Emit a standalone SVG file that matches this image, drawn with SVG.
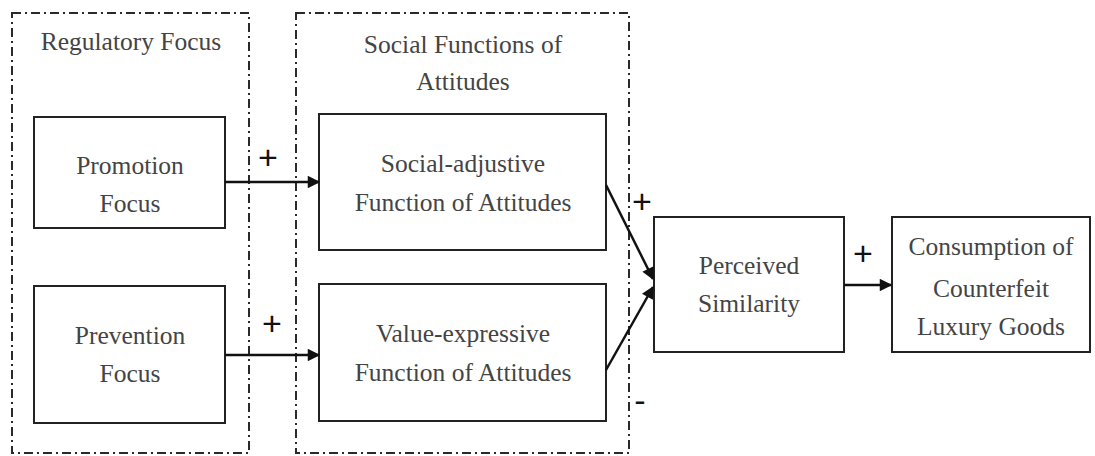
<svg xmlns="http://www.w3.org/2000/svg" width="1095" height="456" viewBox="0 0 1095 456">
<style>
.frame{fill:none;stroke:#2a2a2a;stroke-width:2;stroke-dasharray:9 4 2 4}
.box{fill:#fff;stroke:#222;stroke-width:2}
.t{font-family:'Liberation Serif','DejaVu Serif',serif;font-size:25.5px;fill:#444;text-anchor:middle}
.sign{font-family:'Liberation Sans','DejaVu Sans',sans-serif;font-size:34px;fill:#111;text-anchor:middle}
.conn{stroke:#111;stroke-width:2.5;fill:none;marker-end:url(#ah)}
</style>
<defs>
<marker id="ah" viewBox="0 0 10 10" refX="9" refY="5" markerWidth="5.5" markerHeight="5" orient="auto" markerUnits="strokeWidth">
<path d="M0,0 L10,5 L0,10 z" fill="#111"/>
</marker>
</defs>
<rect width="1095" height="456" fill="#fff"/>
<g id="frame-regulatory">
<rect class="frame" x="12" y="13" width="237" height="440"/>
<text class="t" x="131" y="50">Regulatory Focus</text>
</g>
<g id="frame-social">
<rect class="frame" x="296" y="13" width="333" height="440"/>
<text class="t" x="463" y="53">Social Functions of</text>
<text class="t" x="463" y="90">Attitudes</text>
</g>
<g id="promotion">
<rect class="box" x="34" y="117" width="191" height="111"/>
<text class="t" x="130" y="174">Promotion</text>
<text class="t" x="130" y="212">Focus</text>
</g>
<g id="prevention">
<rect class="box" x="34" y="286" width="191" height="137"/>
<text class="t" x="130" y="344">Prevention</text>
<text class="t" x="130" y="382">Focus</text>
</g>
<g id="social-adjustive">
<rect class="box" x="319" y="114" width="287" height="136"/>
<text class="t" x="463" y="172">Social-adjustive</text>
<text class="t" x="463" y="211">Function of Attitudes</text>
</g>
<g id="value-expressive">
<rect class="box" x="319" y="284" width="287" height="137"/>
<text class="t" x="463" y="342">Value-expressive</text>
<text class="t" x="463" y="381">Function of Attitudes</text>
</g>
<g id="perceived">
<rect class="box" x="654" y="217" width="190" height="135"/>
<text class="t" x="749" y="274">Perceived</text>
<text class="t" x="749" y="312">Similarity</text>
</g>
<g id="consumption">
<rect class="box" x="892" y="217" width="198" height="135"/>
<text class="t" x="991" y="255">Consumption of</text>
<text class="t" x="991" y="297">Counterfeit</text>
<text class="t" x="991" y="335">Luxury Goods</text>
</g>
<g id="connectors">
<line class="conn" x1="225" y1="182" x2="319" y2="182"/>
<line class="conn" x1="225" y1="355" x2="319" y2="355"/>
<line class="conn" x1="606" y1="185" x2="653" y2="279"/>
<line class="conn" x1="606" y1="370" x2="653" y2="287"/>
<line class="conn" x1="844" y1="285" x2="891" y2="285"/>
</g>
<g id="signs">
<text class="sign" x="268" y="169">+</text>
<text class="sign" x="272" y="335">+</text>
<text class="sign" x="642" y="213">+</text>
<text class="sign" x="863" y="265">+</text>
<text class="sign" x="640" y="412" font-size="50">-</text>
</g>
</svg>
